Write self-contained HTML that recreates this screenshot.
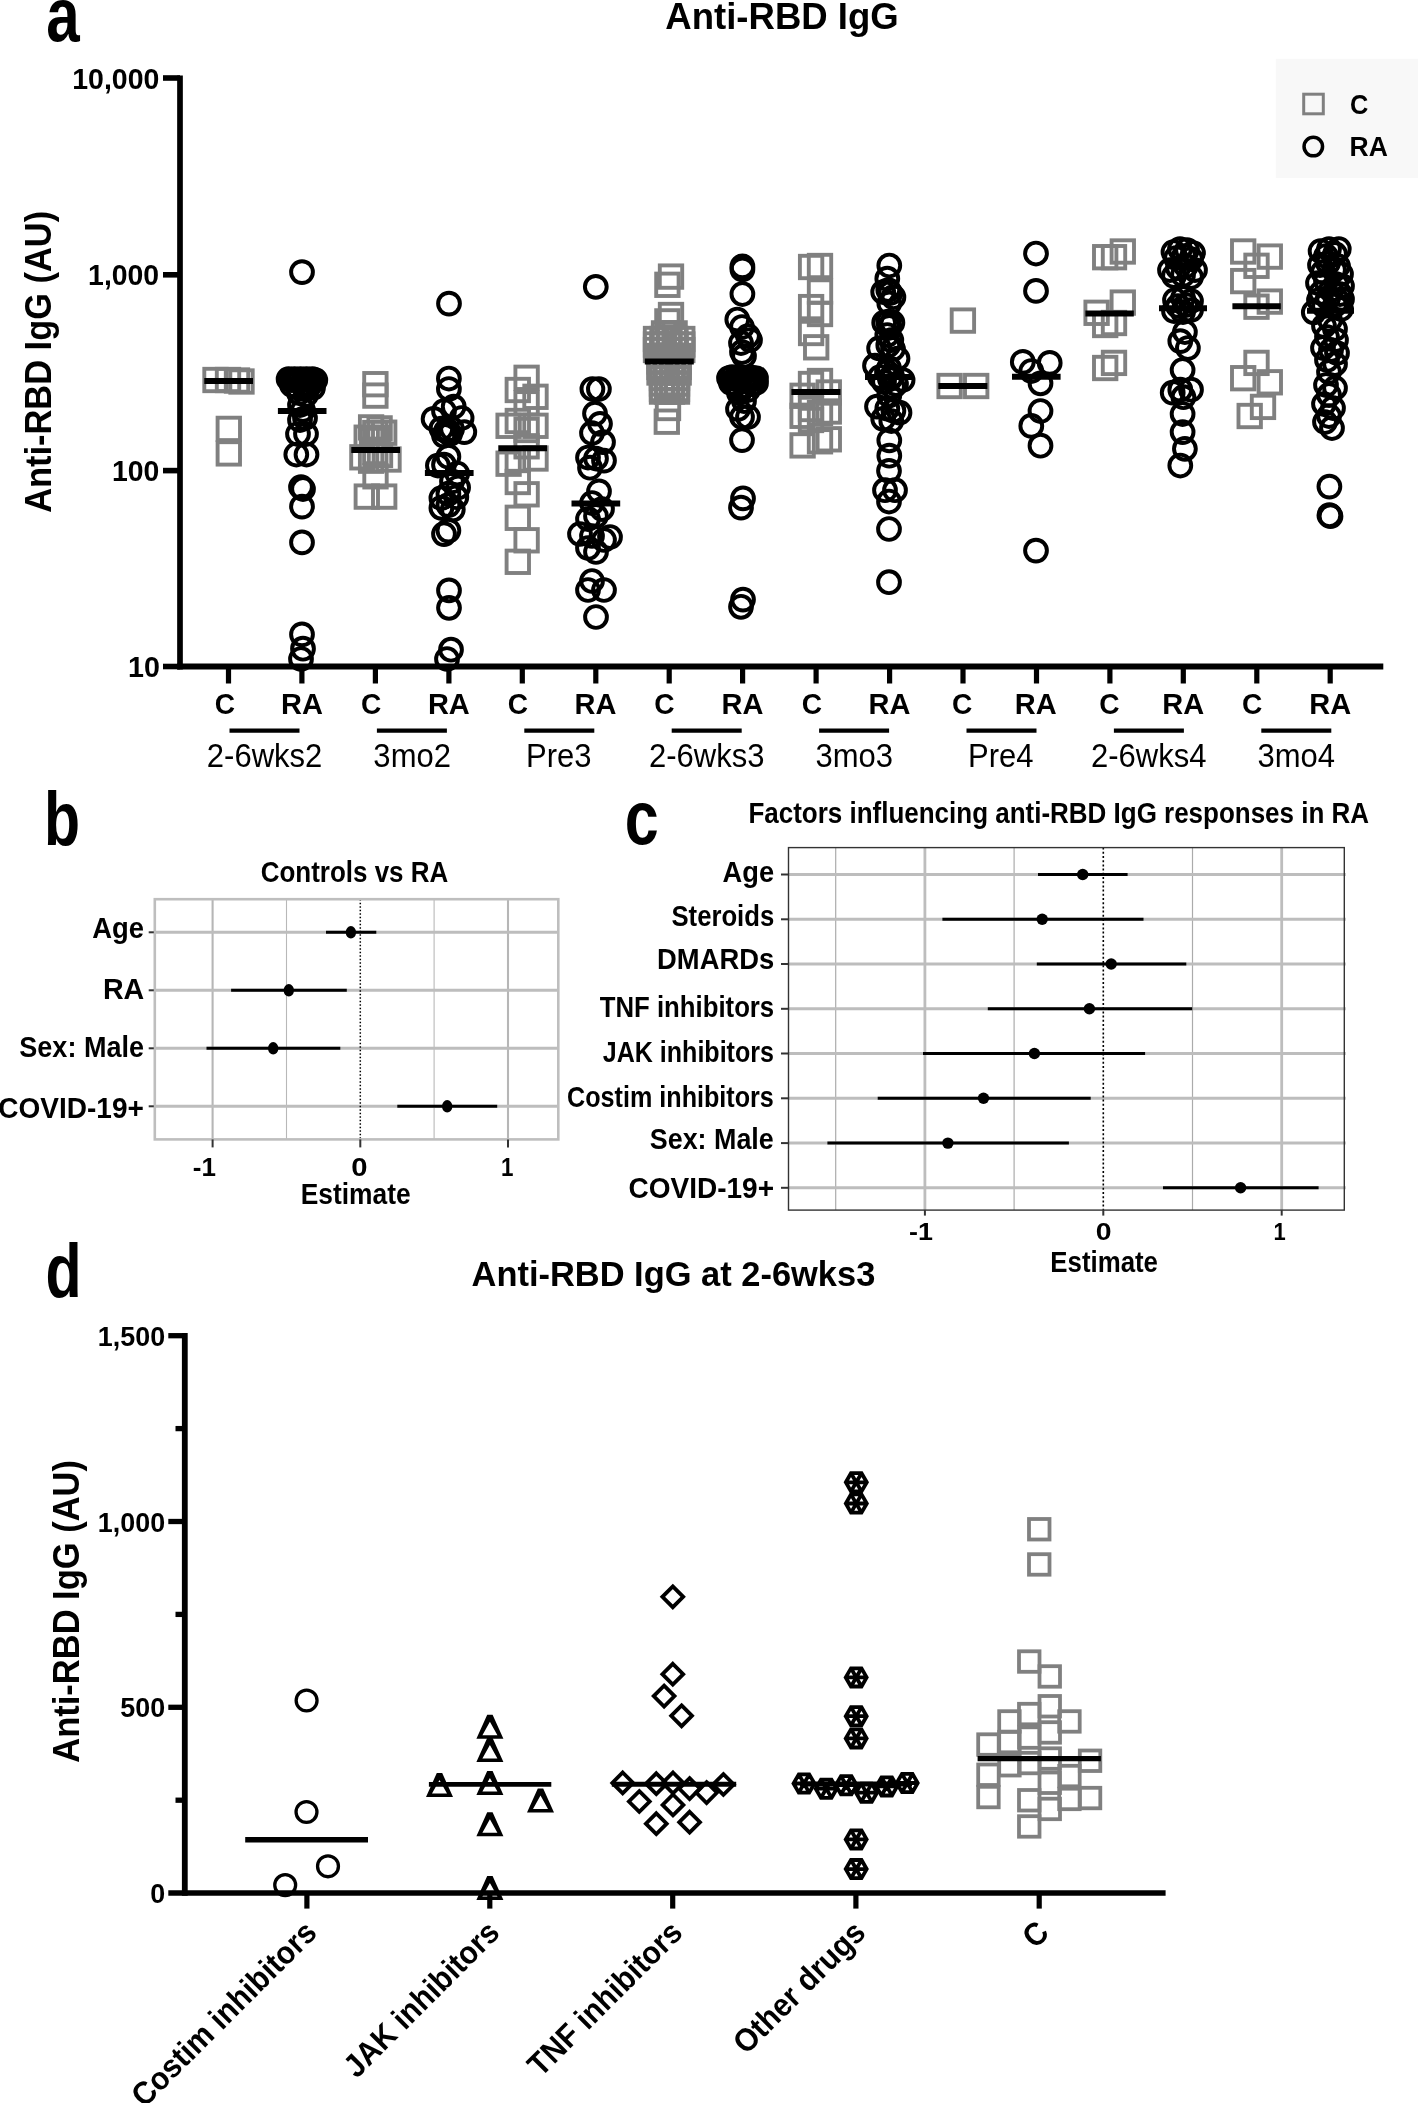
<!DOCTYPE html>
<html><head><meta charset="utf-8"><title>Anti-RBD IgG figure</title>
<style>
html,body{margin:0;padding:0;background:#fff;overflow:hidden;}
svg{display:block;font-family:"Liberation Sans", sans-serif;filter:grayscale(1);}
</style></head><body>
<svg width="1418" height="2103" viewBox="0 0 1418 2103">
<rect x="0" y="0" width="1418" height="2103" fill="#fff"/>
<rect x="1275.8" y="58.8" width="142.2" height="119.1" fill="#f8f8f8"/>
<rect x="204.3" y="368.8" width="22.4" height="22.4" fill="none" stroke="#808080" stroke-width="3.9"/>
<rect x="216.8" y="368.8" width="22.4" height="22.4" fill="none" stroke="#808080" stroke-width="3.9"/>
<rect x="225.8" y="369.3" width="22.4" height="22.4" fill="none" stroke="#808080" stroke-width="3.9"/>
<rect x="230.3" y="370.3" width="22.4" height="22.4" fill="none" stroke="#808080" stroke-width="3.9"/>
<rect x="217.6" y="417.7" width="22.4" height="22.4" fill="none" stroke="#808080" stroke-width="3.9"/>
<rect x="217.6" y="442.2" width="22.4" height="22.4" fill="none" stroke="#808080" stroke-width="3.9"/>
<rect x="364.2" y="373.0" width="22.4" height="22.4" fill="none" stroke="#808080" stroke-width="3.9"/>
<rect x="364.2" y="384.4" width="22.4" height="22.4" fill="none" stroke="#808080" stroke-width="3.9"/>
<rect x="359.9" y="416.2" width="22.4" height="22.4" fill="none" stroke="#808080" stroke-width="3.9"/>
<rect x="368.4" y="417.2" width="22.4" height="22.4" fill="none" stroke="#808080" stroke-width="3.9"/>
<rect x="373.0" y="421.5" width="22.4" height="22.4" fill="none" stroke="#808080" stroke-width="3.9"/>
<rect x="355.5" y="426.5" width="22.4" height="22.4" fill="none" stroke="#808080" stroke-width="3.9"/>
<rect x="364.1" y="421.8" width="22.4" height="22.4" fill="none" stroke="#808080" stroke-width="3.9"/>
<rect x="360.8" y="428.8" width="22.4" height="22.4" fill="none" stroke="#808080" stroke-width="3.9"/>
<rect x="366.8" y="426.8" width="22.4" height="22.4" fill="none" stroke="#808080" stroke-width="3.9"/>
<rect x="351.2" y="446.1" width="22.4" height="22.4" fill="none" stroke="#808080" stroke-width="3.9"/>
<rect x="377.3" y="448.3" width="22.4" height="22.4" fill="none" stroke="#808080" stroke-width="3.9"/>
<rect x="359.9" y="449.5" width="22.4" height="22.4" fill="none" stroke="#808080" stroke-width="3.9"/>
<rect x="364.1" y="440.8" width="22.4" height="22.4" fill="none" stroke="#808080" stroke-width="3.9"/>
<rect x="368.8" y="443.8" width="22.4" height="22.4" fill="none" stroke="#808080" stroke-width="3.9"/>
<rect x="364.3" y="465.1" width="22.4" height="22.4" fill="none" stroke="#808080" stroke-width="3.9"/>
<rect x="355.6" y="485.4" width="22.4" height="22.4" fill="none" stroke="#808080" stroke-width="3.9"/>
<rect x="373.0" y="485.4" width="22.4" height="22.4" fill="none" stroke="#808080" stroke-width="3.9"/>
<rect x="515.4" y="366.6" width="22.4" height="22.4" fill="none" stroke="#808080" stroke-width="3.9"/>
<rect x="506.6" y="378.8" width="22.4" height="22.4" fill="none" stroke="#808080" stroke-width="3.9"/>
<rect x="524.3" y="385.6" width="22.4" height="22.4" fill="none" stroke="#808080" stroke-width="3.9"/>
<rect x="515.4" y="392.1" width="22.4" height="22.4" fill="none" stroke="#808080" stroke-width="3.9"/>
<rect x="506.6" y="409.8" width="22.4" height="22.4" fill="none" stroke="#808080" stroke-width="3.9"/>
<rect x="497.4" y="414.6" width="22.4" height="22.4" fill="none" stroke="#808080" stroke-width="3.9"/>
<rect x="524.3" y="414.6" width="22.4" height="22.4" fill="none" stroke="#808080" stroke-width="3.9"/>
<rect x="515.4" y="418.8" width="22.4" height="22.4" fill="none" stroke="#808080" stroke-width="3.9"/>
<rect x="515.4" y="435.1" width="22.4" height="22.4" fill="none" stroke="#808080" stroke-width="3.9"/>
<rect x="497.4" y="452.5" width="22.4" height="22.4" fill="none" stroke="#808080" stroke-width="3.9"/>
<rect x="524.3" y="447.3" width="22.4" height="22.4" fill="none" stroke="#808080" stroke-width="3.9"/>
<rect x="506.6" y="448.8" width="22.4" height="22.4" fill="none" stroke="#808080" stroke-width="3.9"/>
<rect x="506.6" y="470.8" width="22.4" height="22.4" fill="none" stroke="#808080" stroke-width="3.9"/>
<rect x="515.4" y="483.1" width="22.4" height="22.4" fill="none" stroke="#808080" stroke-width="3.9"/>
<rect x="506.6" y="506.6" width="22.4" height="22.4" fill="none" stroke="#808080" stroke-width="3.9"/>
<rect x="515.4" y="529.1" width="22.4" height="22.4" fill="none" stroke="#808080" stroke-width="3.9"/>
<rect x="506.6" y="550.6" width="22.4" height="22.4" fill="none" stroke="#808080" stroke-width="3.9"/>
<rect x="659.8" y="265.4" width="22.4" height="22.4" fill="none" stroke="#808080" stroke-width="3.9"/>
<rect x="656.2" y="273.6" width="22.4" height="22.4" fill="none" stroke="#808080" stroke-width="3.9"/>
<rect x="659.8" y="303.8" width="22.4" height="22.4" fill="none" stroke="#808080" stroke-width="3.9"/>
<rect x="656.2" y="310.2" width="22.4" height="22.4" fill="none" stroke="#808080" stroke-width="3.9"/>
<rect x="652.8" y="322.2" width="22.4" height="22.4" fill="none" stroke="#808080" stroke-width="3.9"/>
<rect x="658.3" y="322.2" width="22.4" height="22.4" fill="none" stroke="#808080" stroke-width="3.9"/>
<rect x="663.4" y="322.2" width="22.4" height="22.4" fill="none" stroke="#808080" stroke-width="3.9"/>
<rect x="644.8" y="327.8" width="22.4" height="22.4" fill="none" stroke="#808080" stroke-width="3.9"/>
<rect x="651.3" y="327.8" width="22.4" height="22.4" fill="none" stroke="#808080" stroke-width="3.9"/>
<rect x="657.8" y="327.8" width="22.4" height="22.4" fill="none" stroke="#808080" stroke-width="3.9"/>
<rect x="664.3" y="327.8" width="22.4" height="22.4" fill="none" stroke="#808080" stroke-width="3.9"/>
<rect x="671.1" y="327.8" width="22.4" height="22.4" fill="none" stroke="#808080" stroke-width="3.9"/>
<rect x="644.8" y="333.3" width="22.4" height="22.4" fill="none" stroke="#808080" stroke-width="3.9"/>
<rect x="651.3" y="333.3" width="22.4" height="22.4" fill="none" stroke="#808080" stroke-width="3.9"/>
<rect x="657.8" y="333.3" width="22.4" height="22.4" fill="none" stroke="#808080" stroke-width="3.9"/>
<rect x="664.3" y="333.3" width="22.4" height="22.4" fill="none" stroke="#808080" stroke-width="3.9"/>
<rect x="671.1" y="333.3" width="22.4" height="22.4" fill="none" stroke="#808080" stroke-width="3.9"/>
<rect x="644.8" y="338.8" width="22.4" height="22.4" fill="none" stroke="#808080" stroke-width="3.9"/>
<rect x="651.3" y="338.8" width="22.4" height="22.4" fill="none" stroke="#808080" stroke-width="3.9"/>
<rect x="657.8" y="338.8" width="22.4" height="22.4" fill="none" stroke="#808080" stroke-width="3.9"/>
<rect x="664.3" y="338.8" width="22.4" height="22.4" fill="none" stroke="#808080" stroke-width="3.9"/>
<rect x="671.1" y="338.8" width="22.4" height="22.4" fill="none" stroke="#808080" stroke-width="3.9"/>
<rect x="648.3" y="344.8" width="22.4" height="22.4" fill="none" stroke="#808080" stroke-width="3.9"/>
<rect x="654.8" y="344.8" width="22.4" height="22.4" fill="none" stroke="#808080" stroke-width="3.9"/>
<rect x="661.3" y="344.8" width="22.4" height="22.4" fill="none" stroke="#808080" stroke-width="3.9"/>
<rect x="667.5" y="344.8" width="22.4" height="22.4" fill="none" stroke="#808080" stroke-width="3.9"/>
<rect x="648.3" y="350.3" width="22.4" height="22.4" fill="none" stroke="#808080" stroke-width="3.9"/>
<rect x="654.8" y="350.3" width="22.4" height="22.4" fill="none" stroke="#808080" stroke-width="3.9"/>
<rect x="661.3" y="350.3" width="22.4" height="22.4" fill="none" stroke="#808080" stroke-width="3.9"/>
<rect x="667.5" y="350.3" width="22.4" height="22.4" fill="none" stroke="#808080" stroke-width="3.9"/>
<rect x="648.3" y="355.8" width="22.4" height="22.4" fill="none" stroke="#808080" stroke-width="3.9"/>
<rect x="654.8" y="355.8" width="22.4" height="22.4" fill="none" stroke="#808080" stroke-width="3.9"/>
<rect x="661.3" y="355.8" width="22.4" height="22.4" fill="none" stroke="#808080" stroke-width="3.9"/>
<rect x="667.5" y="355.8" width="22.4" height="22.4" fill="none" stroke="#808080" stroke-width="3.9"/>
<rect x="648.3" y="361.3" width="22.4" height="22.4" fill="none" stroke="#808080" stroke-width="3.9"/>
<rect x="654.8" y="361.3" width="22.4" height="22.4" fill="none" stroke="#808080" stroke-width="3.9"/>
<rect x="661.3" y="361.3" width="22.4" height="22.4" fill="none" stroke="#808080" stroke-width="3.9"/>
<rect x="667.5" y="361.3" width="22.4" height="22.4" fill="none" stroke="#808080" stroke-width="3.9"/>
<rect x="650.8" y="366.8" width="22.4" height="22.4" fill="none" stroke="#808080" stroke-width="3.9"/>
<rect x="655.8" y="366.8" width="22.4" height="22.4" fill="none" stroke="#808080" stroke-width="3.9"/>
<rect x="660.8" y="366.8" width="22.4" height="22.4" fill="none" stroke="#808080" stroke-width="3.9"/>
<rect x="665.8" y="366.8" width="22.4" height="22.4" fill="none" stroke="#808080" stroke-width="3.9"/>
<rect x="650.8" y="372.3" width="22.4" height="22.4" fill="none" stroke="#808080" stroke-width="3.9"/>
<rect x="655.8" y="372.3" width="22.4" height="22.4" fill="none" stroke="#808080" stroke-width="3.9"/>
<rect x="660.8" y="372.3" width="22.4" height="22.4" fill="none" stroke="#808080" stroke-width="3.9"/>
<rect x="665.8" y="372.3" width="22.4" height="22.4" fill="none" stroke="#808080" stroke-width="3.9"/>
<rect x="650.8" y="377.8" width="22.4" height="22.4" fill="none" stroke="#808080" stroke-width="3.9"/>
<rect x="655.8" y="377.8" width="22.4" height="22.4" fill="none" stroke="#808080" stroke-width="3.9"/>
<rect x="660.8" y="377.8" width="22.4" height="22.4" fill="none" stroke="#808080" stroke-width="3.9"/>
<rect x="665.8" y="377.8" width="22.4" height="22.4" fill="none" stroke="#808080" stroke-width="3.9"/>
<rect x="650.8" y="380.4" width="22.4" height="22.4" fill="none" stroke="#808080" stroke-width="3.9"/>
<rect x="655.8" y="380.4" width="22.4" height="22.4" fill="none" stroke="#808080" stroke-width="3.9"/>
<rect x="660.8" y="380.4" width="22.4" height="22.4" fill="none" stroke="#808080" stroke-width="3.9"/>
<rect x="665.8" y="380.4" width="22.4" height="22.4" fill="none" stroke="#808080" stroke-width="3.9"/>
<rect x="656.8" y="396.8" width="22.4" height="22.4" fill="none" stroke="#808080" stroke-width="3.9"/>
<rect x="655.6" y="410.5" width="22.4" height="22.4" fill="none" stroke="#808080" stroke-width="3.9"/>
<rect x="799.9" y="255.8" width="22.4" height="22.4" fill="none" stroke="#808080" stroke-width="3.9"/>
<rect x="808.8" y="254.8" width="22.4" height="22.4" fill="none" stroke="#808080" stroke-width="3.9"/>
<rect x="808.8" y="280.3" width="22.4" height="22.4" fill="none" stroke="#808080" stroke-width="3.9"/>
<rect x="799.9" y="295.9" width="22.4" height="22.4" fill="none" stroke="#808080" stroke-width="3.9"/>
<rect x="808.8" y="302.8" width="22.4" height="22.4" fill="none" stroke="#808080" stroke-width="3.9"/>
<rect x="799.9" y="321.8" width="22.4" height="22.4" fill="none" stroke="#808080" stroke-width="3.9"/>
<rect x="805.0" y="336.1" width="22.4" height="22.4" fill="none" stroke="#808080" stroke-width="3.9"/>
<rect x="799.8" y="372.8" width="22.4" height="22.4" fill="none" stroke="#808080" stroke-width="3.9"/>
<rect x="808.8" y="369.8" width="22.4" height="22.4" fill="none" stroke="#808080" stroke-width="3.9"/>
<rect x="817.6" y="381.3" width="22.4" height="22.4" fill="none" stroke="#808080" stroke-width="3.9"/>
<rect x="791.4" y="384.6" width="22.4" height="22.4" fill="none" stroke="#808080" stroke-width="3.9"/>
<rect x="799.8" y="397.8" width="22.4" height="22.4" fill="none" stroke="#808080" stroke-width="3.9"/>
<rect x="808.8" y="401.8" width="22.4" height="22.4" fill="none" stroke="#808080" stroke-width="3.9"/>
<rect x="817.6" y="400.3" width="22.4" height="22.4" fill="none" stroke="#808080" stroke-width="3.9"/>
<rect x="791.4" y="404.6" width="22.4" height="22.4" fill="none" stroke="#808080" stroke-width="3.9"/>
<rect x="799.8" y="408.8" width="22.4" height="22.4" fill="none" stroke="#808080" stroke-width="3.9"/>
<rect x="791.4" y="434.2" width="22.4" height="22.4" fill="none" stroke="#808080" stroke-width="3.9"/>
<rect x="808.8" y="430.1" width="22.4" height="22.4" fill="none" stroke="#808080" stroke-width="3.9"/>
<rect x="817.6" y="428.1" width="22.4" height="22.4" fill="none" stroke="#808080" stroke-width="3.9"/>
<rect x="951.7" y="309.4" width="22.4" height="22.4" fill="none" stroke="#808080" stroke-width="3.9"/>
<rect x="938.4" y="374.8" width="22.4" height="22.4" fill="none" stroke="#808080" stroke-width="3.9"/>
<rect x="965.0" y="374.8" width="22.4" height="22.4" fill="none" stroke="#808080" stroke-width="3.9"/>
<rect x="1094.0" y="246.0" width="22.4" height="22.4" fill="none" stroke="#808080" stroke-width="3.9"/>
<rect x="1102.8" y="246.0" width="22.4" height="22.4" fill="none" stroke="#808080" stroke-width="3.9"/>
<rect x="1111.6" y="240.3" width="22.4" height="22.4" fill="none" stroke="#808080" stroke-width="3.9"/>
<rect x="1085.4" y="301.6" width="22.4" height="22.4" fill="none" stroke="#808080" stroke-width="3.9"/>
<rect x="1111.6" y="291.4" width="22.4" height="22.4" fill="none" stroke="#808080" stroke-width="3.9"/>
<rect x="1094.0" y="313.8" width="22.4" height="22.4" fill="none" stroke="#808080" stroke-width="3.9"/>
<rect x="1102.8" y="311.8" width="22.4" height="22.4" fill="none" stroke="#808080" stroke-width="3.9"/>
<rect x="1094.0" y="356.8" width="22.4" height="22.4" fill="none" stroke="#808080" stroke-width="3.9"/>
<rect x="1102.8" y="351.7" width="22.4" height="22.4" fill="none" stroke="#808080" stroke-width="3.9"/>
<rect x="1232.0" y="240.3" width="22.4" height="22.4" fill="none" stroke="#808080" stroke-width="3.9"/>
<rect x="1258.6" y="245.4" width="22.4" height="22.4" fill="none" stroke="#808080" stroke-width="3.9"/>
<rect x="1245.3" y="254.6" width="22.4" height="22.4" fill="none" stroke="#808080" stroke-width="3.9"/>
<rect x="1232.0" y="269.9" width="22.4" height="22.4" fill="none" stroke="#808080" stroke-width="3.9"/>
<rect x="1258.6" y="290.4" width="22.4" height="22.4" fill="none" stroke="#808080" stroke-width="3.9"/>
<rect x="1245.3" y="295.5" width="22.4" height="22.4" fill="none" stroke="#808080" stroke-width="3.9"/>
<rect x="1245.3" y="351.7" width="22.4" height="22.4" fill="none" stroke="#808080" stroke-width="3.9"/>
<rect x="1232.0" y="367.0" width="22.4" height="22.4" fill="none" stroke="#808080" stroke-width="3.9"/>
<rect x="1258.6" y="371.1" width="22.4" height="22.4" fill="none" stroke="#808080" stroke-width="3.9"/>
<rect x="1251.8" y="395.7" width="22.4" height="22.4" fill="none" stroke="#808080" stroke-width="3.9"/>
<rect x="1238.5" y="404.8" width="22.4" height="22.4" fill="none" stroke="#808080" stroke-width="3.9"/>
<circle cx="302.0" cy="272.1" r="10.9" fill="none" stroke="#000" stroke-width="3.95"/>
<circle cx="288.6" cy="379.0" r="10.9" fill="none" stroke="#000" stroke-width="3.95"/>
<circle cx="291.5" cy="380.0" r="10.9" fill="none" stroke="#000" stroke-width="3.95"/>
<circle cx="294.5" cy="379.0" r="10.9" fill="none" stroke="#000" stroke-width="3.95"/>
<circle cx="297.5" cy="380.5" r="10.9" fill="none" stroke="#000" stroke-width="3.95"/>
<circle cx="300.5" cy="379.0" r="10.9" fill="none" stroke="#000" stroke-width="3.95"/>
<circle cx="303.5" cy="380.0" r="10.9" fill="none" stroke="#000" stroke-width="3.95"/>
<circle cx="306.5" cy="379.0" r="10.9" fill="none" stroke="#000" stroke-width="3.95"/>
<circle cx="309.5" cy="380.0" r="10.9" fill="none" stroke="#000" stroke-width="3.95"/>
<circle cx="312.5" cy="379.0" r="10.9" fill="none" stroke="#000" stroke-width="3.95"/>
<circle cx="315.3" cy="380.0" r="10.9" fill="none" stroke="#000" stroke-width="3.95"/>
<circle cx="313.0" cy="387.8" r="10.9" fill="none" stroke="#000" stroke-width="3.95"/>
<circle cx="309.0" cy="386.0" r="10.9" fill="none" stroke="#000" stroke-width="3.95"/>
<circle cx="298.0" cy="388.0" r="10.9" fill="none" stroke="#000" stroke-width="3.95"/>
<circle cx="292.0" cy="385.0" r="10.9" fill="none" stroke="#000" stroke-width="3.95"/>
<circle cx="304.0" cy="387.0" r="10.9" fill="none" stroke="#000" stroke-width="3.95"/>
<circle cx="299.0" cy="393.0" r="10.9" fill="none" stroke="#000" stroke-width="3.95"/>
<circle cx="306.0" cy="395.0" r="10.9" fill="none" stroke="#000" stroke-width="3.95"/>
<circle cx="300.0" cy="405.0" r="10.9" fill="none" stroke="#000" stroke-width="3.95"/>
<circle cx="303.0" cy="410.0" r="10.9" fill="none" stroke="#000" stroke-width="3.95"/>
<circle cx="300.0" cy="420.0" r="10.9" fill="none" stroke="#000" stroke-width="3.95"/>
<circle cx="305.0" cy="418.0" r="10.9" fill="none" stroke="#000" stroke-width="3.95"/>
<circle cx="298.0" cy="434.0" r="10.9" fill="none" stroke="#000" stroke-width="3.95"/>
<circle cx="306.0" cy="434.0" r="10.9" fill="none" stroke="#000" stroke-width="3.95"/>
<circle cx="296.3" cy="454.5" r="10.9" fill="none" stroke="#000" stroke-width="3.95"/>
<circle cx="306.5" cy="454.5" r="10.9" fill="none" stroke="#000" stroke-width="3.95"/>
<circle cx="301.0" cy="487.0" r="10.9" fill="none" stroke="#000" stroke-width="3.95"/>
<circle cx="303.0" cy="489.0" r="10.9" fill="none" stroke="#000" stroke-width="3.95"/>
<circle cx="302.0" cy="506.6" r="10.9" fill="none" stroke="#000" stroke-width="3.95"/>
<circle cx="302.0" cy="542.4" r="10.9" fill="none" stroke="#000" stroke-width="3.95"/>
<circle cx="302.0" cy="634.4" r="10.9" fill="none" stroke="#000" stroke-width="3.95"/>
<circle cx="303.0" cy="648.7" r="10.9" fill="none" stroke="#000" stroke-width="3.95"/>
<circle cx="301.0" cy="659.0" r="10.9" fill="none" stroke="#000" stroke-width="3.95"/>
<circle cx="449.0" cy="303.6" r="10.9" fill="none" stroke="#000" stroke-width="3.95"/>
<circle cx="448.9" cy="378.5" r="10.9" fill="none" stroke="#000" stroke-width="3.95"/>
<circle cx="448.9" cy="389.0" r="10.9" fill="none" stroke="#000" stroke-width="3.95"/>
<circle cx="453.7" cy="406.6" r="10.9" fill="none" stroke="#000" stroke-width="3.95"/>
<circle cx="444.0" cy="411.0" r="10.9" fill="none" stroke="#000" stroke-width="3.95"/>
<circle cx="433.6" cy="418.9" r="10.9" fill="none" stroke="#000" stroke-width="3.95"/>
<circle cx="461.6" cy="418.0" r="10.9" fill="none" stroke="#000" stroke-width="3.95"/>
<circle cx="441.4" cy="428.6" r="10.9" fill="none" stroke="#000" stroke-width="3.95"/>
<circle cx="446.0" cy="431.0" r="10.9" fill="none" stroke="#000" stroke-width="3.95"/>
<circle cx="450.0" cy="434.0" r="10.9" fill="none" stroke="#000" stroke-width="3.95"/>
<circle cx="452.0" cy="429.0" r="10.9" fill="none" stroke="#000" stroke-width="3.95"/>
<circle cx="444.0" cy="435.6" r="10.9" fill="none" stroke="#000" stroke-width="3.95"/>
<circle cx="448.0" cy="431.0" r="10.9" fill="none" stroke="#000" stroke-width="3.95"/>
<circle cx="464.3" cy="432.1" r="10.9" fill="none" stroke="#000" stroke-width="3.95"/>
<circle cx="448.4" cy="456.7" r="10.9" fill="none" stroke="#000" stroke-width="3.95"/>
<circle cx="444.0" cy="464.7" r="10.9" fill="none" stroke="#000" stroke-width="3.95"/>
<circle cx="437.9" cy="465.5" r="10.9" fill="none" stroke="#000" stroke-width="3.95"/>
<circle cx="457.2" cy="473.5" r="10.9" fill="none" stroke="#000" stroke-width="3.95"/>
<circle cx="452.0" cy="481.4" r="10.9" fill="none" stroke="#000" stroke-width="3.95"/>
<circle cx="458.1" cy="487.5" r="10.9" fill="none" stroke="#000" stroke-width="3.95"/>
<circle cx="441.4" cy="498.1" r="10.9" fill="none" stroke="#000" stroke-width="3.95"/>
<circle cx="448.4" cy="493.7" r="10.9" fill="none" stroke="#000" stroke-width="3.95"/>
<circle cx="456.3" cy="497.2" r="10.9" fill="none" stroke="#000" stroke-width="3.95"/>
<circle cx="448.4" cy="505.1" r="10.9" fill="none" stroke="#000" stroke-width="3.95"/>
<circle cx="441.4" cy="507.8" r="10.9" fill="none" stroke="#000" stroke-width="3.95"/>
<circle cx="452.8" cy="509.5" r="10.9" fill="none" stroke="#000" stroke-width="3.95"/>
<circle cx="448.4" cy="530.6" r="10.9" fill="none" stroke="#000" stroke-width="3.95"/>
<circle cx="444.0" cy="534.1" r="10.9" fill="none" stroke="#000" stroke-width="3.95"/>
<circle cx="449.0" cy="590.4" r="10.9" fill="none" stroke="#000" stroke-width="3.95"/>
<circle cx="449.0" cy="607.8" r="10.9" fill="none" stroke="#000" stroke-width="3.95"/>
<circle cx="451.0" cy="649.7" r="10.9" fill="none" stroke="#000" stroke-width="3.95"/>
<circle cx="447.0" cy="659.0" r="10.9" fill="none" stroke="#000" stroke-width="3.95"/>
<circle cx="595.8" cy="286.8" r="10.9" fill="none" stroke="#000" stroke-width="3.95"/>
<circle cx="592.4" cy="389.0" r="10.9" fill="none" stroke="#000" stroke-width="3.95"/>
<circle cx="598.9" cy="389.0" r="10.9" fill="none" stroke="#000" stroke-width="3.95"/>
<circle cx="595.0" cy="413.6" r="10.9" fill="none" stroke="#000" stroke-width="3.95"/>
<circle cx="600.0" cy="423.8" r="10.9" fill="none" stroke="#000" stroke-width="3.95"/>
<circle cx="592.0" cy="433.0" r="10.9" fill="none" stroke="#000" stroke-width="3.95"/>
<circle cx="603.0" cy="442.2" r="10.9" fill="none" stroke="#000" stroke-width="3.95"/>
<circle cx="588.0" cy="457.5" r="10.9" fill="none" stroke="#000" stroke-width="3.95"/>
<circle cx="596.0" cy="458.5" r="10.9" fill="none" stroke="#000" stroke-width="3.95"/>
<circle cx="604.0" cy="460.6" r="10.9" fill="none" stroke="#000" stroke-width="3.95"/>
<circle cx="590.0" cy="467.7" r="10.9" fill="none" stroke="#000" stroke-width="3.95"/>
<circle cx="599.0" cy="491.3" r="10.9" fill="none" stroke="#000" stroke-width="3.95"/>
<circle cx="592.0" cy="503.0" r="10.9" fill="none" stroke="#000" stroke-width="3.95"/>
<circle cx="602.0" cy="509.0" r="10.9" fill="none" stroke="#000" stroke-width="3.95"/>
<circle cx="588.0" cy="519.0" r="10.9" fill="none" stroke="#000" stroke-width="3.95"/>
<circle cx="596.0" cy="516.0" r="10.9" fill="none" stroke="#000" stroke-width="3.95"/>
<circle cx="580.0" cy="534.0" r="10.9" fill="none" stroke="#000" stroke-width="3.95"/>
<circle cx="592.0" cy="536.0" r="10.9" fill="none" stroke="#000" stroke-width="3.95"/>
<circle cx="610.0" cy="537.0" r="10.9" fill="none" stroke="#000" stroke-width="3.95"/>
<circle cx="604.0" cy="540.0" r="10.9" fill="none" stroke="#000" stroke-width="3.95"/>
<circle cx="588.0" cy="548.0" r="10.9" fill="none" stroke="#000" stroke-width="3.95"/>
<circle cx="596.0" cy="552.0" r="10.9" fill="none" stroke="#000" stroke-width="3.95"/>
<circle cx="592.0" cy="581.0" r="10.9" fill="none" stroke="#000" stroke-width="3.95"/>
<circle cx="588.0" cy="590.0" r="10.9" fill="none" stroke="#000" stroke-width="3.95"/>
<circle cx="604.0" cy="590.0" r="10.9" fill="none" stroke="#000" stroke-width="3.95"/>
<circle cx="596.0" cy="617.0" r="10.9" fill="none" stroke="#000" stroke-width="3.95"/>
<circle cx="742.4" cy="266.4" r="10.9" fill="none" stroke="#000" stroke-width="3.95"/>
<circle cx="742.4" cy="269.4" r="10.9" fill="none" stroke="#000" stroke-width="3.95"/>
<circle cx="742.4" cy="294.0" r="10.9" fill="none" stroke="#000" stroke-width="3.95"/>
<circle cx="737.3" cy="319.5" r="10.9" fill="none" stroke="#000" stroke-width="3.95"/>
<circle cx="742.0" cy="327.0" r="10.9" fill="none" stroke="#000" stroke-width="3.95"/>
<circle cx="748.0" cy="336.0" r="10.9" fill="none" stroke="#000" stroke-width="3.95"/>
<circle cx="741.0" cy="343.0" r="10.9" fill="none" stroke="#000" stroke-width="3.95"/>
<circle cx="750.0" cy="340.0" r="10.9" fill="none" stroke="#000" stroke-width="3.95"/>
<circle cx="742.0" cy="352.0" r="10.9" fill="none" stroke="#000" stroke-width="3.95"/>
<circle cx="744.0" cy="356.0" r="10.9" fill="none" stroke="#000" stroke-width="3.95"/>
<circle cx="729.0" cy="378.0" r="10.9" fill="none" stroke="#000" stroke-width="3.95"/>
<circle cx="732.0" cy="377.0" r="10.9" fill="none" stroke="#000" stroke-width="3.95"/>
<circle cx="735.0" cy="379.0" r="10.9" fill="none" stroke="#000" stroke-width="3.95"/>
<circle cx="738.0" cy="378.0" r="10.9" fill="none" stroke="#000" stroke-width="3.95"/>
<circle cx="741.0" cy="377.0" r="10.9" fill="none" stroke="#000" stroke-width="3.95"/>
<circle cx="744.0" cy="379.0" r="10.9" fill="none" stroke="#000" stroke-width="3.95"/>
<circle cx="747.0" cy="378.0" r="10.9" fill="none" stroke="#000" stroke-width="3.95"/>
<circle cx="750.0" cy="377.0" r="10.9" fill="none" stroke="#000" stroke-width="3.95"/>
<circle cx="753.0" cy="379.0" r="10.9" fill="none" stroke="#000" stroke-width="3.95"/>
<circle cx="756.0" cy="378.0" r="10.9" fill="none" stroke="#000" stroke-width="3.95"/>
<circle cx="735.0" cy="385.0" r="10.9" fill="none" stroke="#000" stroke-width="3.95"/>
<circle cx="745.0" cy="386.0" r="10.9" fill="none" stroke="#000" stroke-width="3.95"/>
<circle cx="752.0" cy="384.0" r="10.9" fill="none" stroke="#000" stroke-width="3.95"/>
<circle cx="740.0" cy="390.0" r="10.9" fill="none" stroke="#000" stroke-width="3.95"/>
<circle cx="748.0" cy="390.0" r="10.9" fill="none" stroke="#000" stroke-width="3.95"/>
<circle cx="731.0" cy="383.0" r="10.9" fill="none" stroke="#000" stroke-width="3.95"/>
<circle cx="756.0" cy="383.0" r="10.9" fill="none" stroke="#000" stroke-width="3.95"/>
<circle cx="739.0" cy="393.0" r="10.9" fill="none" stroke="#000" stroke-width="3.95"/>
<circle cx="744.0" cy="401.0" r="10.9" fill="none" stroke="#000" stroke-width="3.95"/>
<circle cx="738.0" cy="409.0" r="10.9" fill="none" stroke="#000" stroke-width="3.95"/>
<circle cx="742.0" cy="417.0" r="10.9" fill="none" stroke="#000" stroke-width="3.95"/>
<circle cx="748.0" cy="417.0" r="10.9" fill="none" stroke="#000" stroke-width="3.95"/>
<circle cx="742.0" cy="440.1" r="10.9" fill="none" stroke="#000" stroke-width="3.95"/>
<circle cx="743.0" cy="498.4" r="10.9" fill="none" stroke="#000" stroke-width="3.95"/>
<circle cx="741.0" cy="507.6" r="10.9" fill="none" stroke="#000" stroke-width="3.95"/>
<circle cx="743.0" cy="599.6" r="10.9" fill="none" stroke="#000" stroke-width="3.95"/>
<circle cx="741.0" cy="606.8" r="10.9" fill="none" stroke="#000" stroke-width="3.95"/>
<circle cx="889.3" cy="265.5" r="10.9" fill="none" stroke="#000" stroke-width="3.95"/>
<circle cx="887.3" cy="278.7" r="10.9" fill="none" stroke="#000" stroke-width="3.95"/>
<circle cx="888.3" cy="290.0" r="10.9" fill="none" stroke="#000" stroke-width="3.95"/>
<circle cx="890.3" cy="293.0" r="10.9" fill="none" stroke="#000" stroke-width="3.95"/>
<circle cx="883.2" cy="292.0" r="10.9" fill="none" stroke="#000" stroke-width="3.95"/>
<circle cx="893.4" cy="297.2" r="10.9" fill="none" stroke="#000" stroke-width="3.95"/>
<circle cx="889.3" cy="303.3" r="10.9" fill="none" stroke="#000" stroke-width="3.95"/>
<circle cx="888.3" cy="321.7" r="10.9" fill="none" stroke="#000" stroke-width="3.95"/>
<circle cx="889.3" cy="326.8" r="10.9" fill="none" stroke="#000" stroke-width="3.95"/>
<circle cx="884.2" cy="322.7" r="10.9" fill="none" stroke="#000" stroke-width="3.95"/>
<circle cx="892.4" cy="322.7" r="10.9" fill="none" stroke="#000" stroke-width="3.95"/>
<circle cx="887.3" cy="335.0" r="10.9" fill="none" stroke="#000" stroke-width="3.95"/>
<circle cx="891.3" cy="340.1" r="10.9" fill="none" stroke="#000" stroke-width="3.95"/>
<circle cx="888.3" cy="345.2" r="10.9" fill="none" stroke="#000" stroke-width="3.95"/>
<circle cx="879.1" cy="348.3" r="10.9" fill="none" stroke="#000" stroke-width="3.95"/>
<circle cx="893.0" cy="349.0" r="10.9" fill="none" stroke="#000" stroke-width="3.95"/>
<circle cx="875.0" cy="365.7" r="10.9" fill="none" stroke="#000" stroke-width="3.95"/>
<circle cx="897.5" cy="358.5" r="10.9" fill="none" stroke="#000" stroke-width="3.95"/>
<circle cx="887.0" cy="372.0" r="10.9" fill="none" stroke="#000" stroke-width="3.95"/>
<circle cx="892.0" cy="376.0" r="10.9" fill="none" stroke="#000" stroke-width="3.95"/>
<circle cx="896.0" cy="384.0" r="10.9" fill="none" stroke="#000" stroke-width="3.95"/>
<circle cx="884.0" cy="382.0" r="10.9" fill="none" stroke="#000" stroke-width="3.95"/>
<circle cx="889.0" cy="368.0" r="10.9" fill="none" stroke="#000" stroke-width="3.95"/>
<circle cx="890.0" cy="379.0" r="10.9" fill="none" stroke="#000" stroke-width="3.95"/>
<circle cx="902.6" cy="380.0" r="10.9" fill="none" stroke="#000" stroke-width="3.95"/>
<circle cx="880.0" cy="377.0" r="10.9" fill="none" stroke="#000" stroke-width="3.95"/>
<circle cx="893.0" cy="387.0" r="10.9" fill="none" stroke="#000" stroke-width="3.95"/>
<circle cx="889.3" cy="395.3" r="10.9" fill="none" stroke="#000" stroke-width="3.95"/>
<circle cx="877.0" cy="406.6" r="10.9" fill="none" stroke="#000" stroke-width="3.95"/>
<circle cx="887.3" cy="408.6" r="10.9" fill="none" stroke="#000" stroke-width="3.95"/>
<circle cx="893.4" cy="410.7" r="10.9" fill="none" stroke="#000" stroke-width="3.95"/>
<circle cx="899.5" cy="412.7" r="10.9" fill="none" stroke="#000" stroke-width="3.95"/>
<circle cx="883.2" cy="418.8" r="10.9" fill="none" stroke="#000" stroke-width="3.95"/>
<circle cx="891.3" cy="421.0" r="10.9" fill="none" stroke="#000" stroke-width="3.95"/>
<circle cx="889.3" cy="440.3" r="10.9" fill="none" stroke="#000" stroke-width="3.95"/>
<circle cx="889.3" cy="455.7" r="10.9" fill="none" stroke="#000" stroke-width="3.95"/>
<circle cx="889.0" cy="470.8" r="10.9" fill="none" stroke="#000" stroke-width="3.95"/>
<circle cx="885.0" cy="490.2" r="10.9" fill="none" stroke="#000" stroke-width="3.95"/>
<circle cx="895.0" cy="490.2" r="10.9" fill="none" stroke="#000" stroke-width="3.95"/>
<circle cx="889.0" cy="501.5" r="10.9" fill="none" stroke="#000" stroke-width="3.95"/>
<circle cx="889.0" cy="529.0" r="10.9" fill="none" stroke="#000" stroke-width="3.95"/>
<circle cx="889.0" cy="582.2" r="10.9" fill="none" stroke="#000" stroke-width="3.95"/>
<circle cx="1036.0" cy="253.5" r="10.9" fill="none" stroke="#000" stroke-width="3.95"/>
<circle cx="1036.0" cy="290.9" r="10.9" fill="none" stroke="#000" stroke-width="3.95"/>
<circle cx="1022.8" cy="361.9" r="10.9" fill="none" stroke="#000" stroke-width="3.95"/>
<circle cx="1049.7" cy="362.9" r="10.9" fill="none" stroke="#000" stroke-width="3.95"/>
<circle cx="1031.3" cy="371.0" r="10.9" fill="none" stroke="#000" stroke-width="3.95"/>
<circle cx="1040.5" cy="383.3" r="10.9" fill="none" stroke="#000" stroke-width="3.95"/>
<circle cx="1040.5" cy="411.0" r="10.9" fill="none" stroke="#000" stroke-width="3.95"/>
<circle cx="1031.3" cy="425.9" r="10.9" fill="none" stroke="#000" stroke-width="3.95"/>
<circle cx="1040.5" cy="445.7" r="10.9" fill="none" stroke="#000" stroke-width="3.95"/>
<circle cx="1036.0" cy="550.6" r="10.9" fill="none" stroke="#000" stroke-width="3.95"/>
<circle cx="1173.5" cy="252.0" r="10.9" fill="none" stroke="#000" stroke-width="3.95"/>
<circle cx="1180.0" cy="249.0" r="10.9" fill="none" stroke="#000" stroke-width="3.95"/>
<circle cx="1187.0" cy="250.0" r="10.9" fill="none" stroke="#000" stroke-width="3.95"/>
<circle cx="1193.0" cy="253.0" r="10.9" fill="none" stroke="#000" stroke-width="3.95"/>
<circle cx="1176.0" cy="258.0" r="10.9" fill="none" stroke="#000" stroke-width="3.95"/>
<circle cx="1184.0" cy="256.0" r="10.9" fill="none" stroke="#000" stroke-width="3.95"/>
<circle cx="1191.0" cy="259.0" r="10.9" fill="none" stroke="#000" stroke-width="3.95"/>
<circle cx="1170.0" cy="270.0" r="10.9" fill="none" stroke="#000" stroke-width="3.95"/>
<circle cx="1178.0" cy="268.0" r="10.9" fill="none" stroke="#000" stroke-width="3.95"/>
<circle cx="1186.0" cy="266.0" r="10.9" fill="none" stroke="#000" stroke-width="3.95"/>
<circle cx="1195.0" cy="270.0" r="10.9" fill="none" stroke="#000" stroke-width="3.95"/>
<circle cx="1174.0" cy="276.0" r="10.9" fill="none" stroke="#000" stroke-width="3.95"/>
<circle cx="1183.0" cy="275.0" r="10.9" fill="none" stroke="#000" stroke-width="3.95"/>
<circle cx="1191.0" cy="277.0" r="10.9" fill="none" stroke="#000" stroke-width="3.95"/>
<circle cx="1175.0" cy="300.0" r="10.9" fill="none" stroke="#000" stroke-width="3.95"/>
<circle cx="1183.0" cy="298.0" r="10.9" fill="none" stroke="#000" stroke-width="3.95"/>
<circle cx="1191.0" cy="301.0" r="10.9" fill="none" stroke="#000" stroke-width="3.95"/>
<circle cx="1178.0" cy="306.0" r="10.9" fill="none" stroke="#000" stroke-width="3.95"/>
<circle cx="1186.0" cy="305.0" r="10.9" fill="none" stroke="#000" stroke-width="3.95"/>
<circle cx="1174.0" cy="311.0" r="10.9" fill="none" stroke="#000" stroke-width="3.95"/>
<circle cx="1183.0" cy="312.0" r="10.9" fill="none" stroke="#000" stroke-width="3.95"/>
<circle cx="1191.0" cy="310.0" r="10.9" fill="none" stroke="#000" stroke-width="3.95"/>
<circle cx="1184.9" cy="332.0" r="10.9" fill="none" stroke="#000" stroke-width="3.95"/>
<circle cx="1180.3" cy="341.1" r="10.9" fill="none" stroke="#000" stroke-width="3.95"/>
<circle cx="1187.9" cy="348.0" r="10.9" fill="none" stroke="#000" stroke-width="3.95"/>
<circle cx="1182.6" cy="370.0" r="10.9" fill="none" stroke="#000" stroke-width="3.95"/>
<circle cx="1172.7" cy="392.7" r="10.9" fill="none" stroke="#000" stroke-width="3.95"/>
<circle cx="1180.3" cy="389.7" r="10.9" fill="none" stroke="#000" stroke-width="3.95"/>
<circle cx="1191.0" cy="389.7" r="10.9" fill="none" stroke="#000" stroke-width="3.95"/>
<circle cx="1183.4" cy="397.2" r="10.9" fill="none" stroke="#000" stroke-width="3.95"/>
<circle cx="1182.6" cy="414.0" r="10.9" fill="none" stroke="#000" stroke-width="3.95"/>
<circle cx="1182.6" cy="432.1" r="10.9" fill="none" stroke="#000" stroke-width="3.95"/>
<circle cx="1184.9" cy="448.8" r="10.9" fill="none" stroke="#000" stroke-width="3.95"/>
<circle cx="1180.3" cy="465.5" r="10.9" fill="none" stroke="#000" stroke-width="3.95"/>
<circle cx="1320.6" cy="251.0" r="10.9" fill="none" stroke="#000" stroke-width="3.95"/>
<circle cx="1329.0" cy="249.0" r="10.9" fill="none" stroke="#000" stroke-width="3.95"/>
<circle cx="1338.8" cy="249.0" r="10.9" fill="none" stroke="#000" stroke-width="3.95"/>
<circle cx="1326.0" cy="256.0" r="10.9" fill="none" stroke="#000" stroke-width="3.95"/>
<circle cx="1335.0" cy="254.0" r="10.9" fill="none" stroke="#000" stroke-width="3.95"/>
<circle cx="1320.0" cy="265.0" r="10.9" fill="none" stroke="#000" stroke-width="3.95"/>
<circle cx="1328.0" cy="263.0" r="10.9" fill="none" stroke="#000" stroke-width="3.95"/>
<circle cx="1338.0" cy="266.0" r="10.9" fill="none" stroke="#000" stroke-width="3.95"/>
<circle cx="1323.0" cy="272.0" r="10.9" fill="none" stroke="#000" stroke-width="3.95"/>
<circle cx="1334.0" cy="270.0" r="10.9" fill="none" stroke="#000" stroke-width="3.95"/>
<circle cx="1341.0" cy="274.0" r="10.9" fill="none" stroke="#000" stroke-width="3.95"/>
<circle cx="1318.0" cy="283.0" r="10.9" fill="none" stroke="#000" stroke-width="3.95"/>
<circle cx="1326.0" cy="281.0" r="10.9" fill="none" stroke="#000" stroke-width="3.95"/>
<circle cx="1336.0" cy="284.0" r="10.9" fill="none" stroke="#000" stroke-width="3.95"/>
<circle cx="1342.0" cy="286.0" r="10.9" fill="none" stroke="#000" stroke-width="3.95"/>
<circle cx="1321.0" cy="293.0" r="10.9" fill="none" stroke="#000" stroke-width="3.95"/>
<circle cx="1331.0" cy="290.0" r="10.9" fill="none" stroke="#000" stroke-width="3.95"/>
<circle cx="1340.0" cy="294.0" r="10.9" fill="none" stroke="#000" stroke-width="3.95"/>
<circle cx="1319.0" cy="300.0" r="10.9" fill="none" stroke="#000" stroke-width="3.95"/>
<circle cx="1328.0" cy="298.0" r="10.9" fill="none" stroke="#000" stroke-width="3.95"/>
<circle cx="1338.0" cy="301.0" r="10.9" fill="none" stroke="#000" stroke-width="3.95"/>
<circle cx="1342.0" cy="299.0" r="10.9" fill="none" stroke="#000" stroke-width="3.95"/>
<circle cx="1324.0" cy="306.0" r="10.9" fill="none" stroke="#000" stroke-width="3.95"/>
<circle cx="1335.0" cy="305.0" r="10.9" fill="none" stroke="#000" stroke-width="3.95"/>
<circle cx="1313.8" cy="312.3" r="10.9" fill="none" stroke="#000" stroke-width="3.95"/>
<circle cx="1341.0" cy="309.0" r="10.9" fill="none" stroke="#000" stroke-width="3.95"/>
<circle cx="1330.0" cy="320.0" r="10.9" fill="none" stroke="#000" stroke-width="3.95"/>
<circle cx="1324.0" cy="326.0" r="10.9" fill="none" stroke="#000" stroke-width="3.95"/>
<circle cx="1335.0" cy="329.0" r="10.9" fill="none" stroke="#000" stroke-width="3.95"/>
<circle cx="1327.0" cy="337.0" r="10.9" fill="none" stroke="#000" stroke-width="3.95"/>
<circle cx="1336.0" cy="340.0" r="10.9" fill="none" stroke="#000" stroke-width="3.95"/>
<circle cx="1323.0" cy="348.0" r="10.9" fill="none" stroke="#000" stroke-width="3.95"/>
<circle cx="1331.0" cy="350.0" r="10.9" fill="none" stroke="#000" stroke-width="3.95"/>
<circle cx="1337.0" cy="353.0" r="10.9" fill="none" stroke="#000" stroke-width="3.95"/>
<circle cx="1327.0" cy="360.0" r="10.9" fill="none" stroke="#000" stroke-width="3.95"/>
<circle cx="1335.0" cy="364.0" r="10.9" fill="none" stroke="#000" stroke-width="3.95"/>
<circle cx="1329.0" cy="372.0" r="10.9" fill="none" stroke="#000" stroke-width="3.95"/>
<circle cx="1326.0" cy="385.0" r="10.9" fill="none" stroke="#000" stroke-width="3.95"/>
<circle cx="1335.0" cy="388.0" r="10.9" fill="none" stroke="#000" stroke-width="3.95"/>
<circle cx="1329.0" cy="395.0" r="10.9" fill="none" stroke="#000" stroke-width="3.95"/>
<circle cx="1324.0" cy="404.0" r="10.9" fill="none" stroke="#000" stroke-width="3.95"/>
<circle cx="1333.0" cy="408.0" r="10.9" fill="none" stroke="#000" stroke-width="3.95"/>
<circle cx="1329.0" cy="416.0" r="10.9" fill="none" stroke="#000" stroke-width="3.95"/>
<circle cx="1325.0" cy="422.0" r="10.9" fill="none" stroke="#000" stroke-width="3.95"/>
<circle cx="1332.0" cy="428.0" r="10.9" fill="none" stroke="#000" stroke-width="3.95"/>
<circle cx="1329.4" cy="486.6" r="10.9" fill="none" stroke="#000" stroke-width="3.95"/>
<circle cx="1329.4" cy="515.2" r="10.9" fill="none" stroke="#000" stroke-width="3.95"/>
<circle cx="1330.5" cy="516.2" r="10.9" fill="none" stroke="#000" stroke-width="3.95"/>
<line x1="204.3" y1="380.9" x2="253.0" y2="380.9" stroke="#000" stroke-width="6" />
<line x1="277.9" y1="411.0" x2="326.5" y2="411.0" stroke="#000" stroke-width="6" />
<line x1="351.3" y1="450.0" x2="400.0" y2="450.0" stroke="#000" stroke-width="6" />
<line x1="424.9" y1="472.9" x2="473.6" y2="472.9" stroke="#000" stroke-width="6" />
<line x1="498.3" y1="448.3" x2="547.0" y2="448.3" stroke="#000" stroke-width="6" />
<line x1="571.5" y1="503.5" x2="620.2" y2="503.5" stroke="#000" stroke-width="6" />
<line x1="644.8" y1="361.4" x2="693.8" y2="361.4" stroke="#000" stroke-width="6" />
<line x1="718.0" y1="378.0" x2="767.0" y2="378.0" stroke="#000" stroke-width="6" />
<line x1="791.4" y1="392.1" x2="840.5" y2="392.1" stroke="#000" stroke-width="6" />
<line x1="865.0" y1="377.0" x2="914.0" y2="377.0" stroke="#000" stroke-width="6" />
<line x1="938.3" y1="386.0" x2="987.4" y2="386.0" stroke="#000" stroke-width="6" />
<line x1="1012.0" y1="376.8" x2="1060.6" y2="376.8" stroke="#000" stroke-width="6" />
<line x1="1085.4" y1="313.4" x2="1133.8" y2="313.4" stroke="#000" stroke-width="6" />
<line x1="1159.0" y1="308.3" x2="1207.0" y2="308.3" stroke="#000" stroke-width="6" />
<line x1="1232.4" y1="306.3" x2="1280.8" y2="306.3" stroke="#000" stroke-width="6" />
<line x1="1307.0" y1="310.8" x2="1354.0" y2="310.8" stroke="#000" stroke-width="6" />
<line x1="180.0" y1="75.5" x2="180.0" y2="669.4" stroke="#000" stroke-width="5.7" />
<line x1="177.2" y1="666.5" x2="1383.3" y2="666.5" stroke="#000" stroke-width="6" />
<line x1="163.0" y1="78.0" x2="180.0" y2="78.0" stroke="#000" stroke-width="5.6" />
<line x1="163.0" y1="274.8" x2="180.0" y2="274.8" stroke="#000" stroke-width="5.6" />
<line x1="163.0" y1="470.6" x2="180.0" y2="470.6" stroke="#000" stroke-width="5.6" />
<line x1="163.0" y1="666.5" x2="180.0" y2="666.5" stroke="#000" stroke-width="5.6" />
<line x1="228.5" y1="666.5" x2="228.5" y2="683.5" stroke="#000" stroke-width="5.2" />
<line x1="301.9" y1="666.5" x2="301.9" y2="683.5" stroke="#000" stroke-width="5.2" />
<line x1="375.4" y1="666.5" x2="375.4" y2="683.5" stroke="#000" stroke-width="5.2" />
<line x1="448.9" y1="666.5" x2="448.9" y2="683.5" stroke="#000" stroke-width="5.2" />
<line x1="522.3" y1="666.5" x2="522.3" y2="683.5" stroke="#000" stroke-width="5.2" />
<line x1="595.8" y1="666.5" x2="595.8" y2="683.5" stroke="#000" stroke-width="5.2" />
<line x1="669.2" y1="666.5" x2="669.2" y2="683.5" stroke="#000" stroke-width="5.2" />
<line x1="742.6" y1="666.5" x2="742.6" y2="683.5" stroke="#000" stroke-width="5.2" />
<line x1="816.1" y1="666.5" x2="816.1" y2="683.5" stroke="#000" stroke-width="5.2" />
<line x1="889.6" y1="666.5" x2="889.6" y2="683.5" stroke="#000" stroke-width="5.2" />
<line x1="963.0" y1="666.5" x2="963.0" y2="683.5" stroke="#000" stroke-width="5.2" />
<line x1="1036.5" y1="666.5" x2="1036.5" y2="683.5" stroke="#000" stroke-width="5.2" />
<line x1="1109.9" y1="666.5" x2="1109.9" y2="683.5" stroke="#000" stroke-width="5.2" />
<line x1="1183.3" y1="666.5" x2="1183.3" y2="683.5" stroke="#000" stroke-width="5.2" />
<line x1="1256.8" y1="666.5" x2="1256.8" y2="683.5" stroke="#000" stroke-width="5.2" />
<line x1="1330.2" y1="666.5" x2="1330.2" y2="683.5" stroke="#000" stroke-width="5.2" />
<text x="0" y="0" font-size="29.80" font-weight="bold" fill="#000" transform="translate(72.20,88.90) scale(0.9565,1)">10,000</text>
<text x="0" y="0" font-size="29.80" font-weight="bold" fill="#000" transform="translate(88.11,285.20) scale(0.9530,1)">1,000</text>
<text x="0" y="0" font-size="29.80" font-weight="bold" fill="#000" transform="translate(112.01,481.30) scale(0.9526,1)">100</text>
<text x="0" y="0" font-size="29.80" font-weight="bold" fill="#000" transform="translate(127.99,677.20) scale(0.9621,1)">10</text>
<text x="0" y="0" font-size="29.80" font-weight="bold" fill="#000" transform="translate(214.75,713.60) scale(0.9441,1)">C</text>
<text x="0" y="0" font-size="29.80" font-weight="bold" fill="#000" transform="translate(281.11,713.60) scale(0.9737,1)">RA</text>
<line x1="229.5" y1="730.7" x2="299.5" y2="730.7" stroke="#000" stroke-width="4.2" />
<text x="0" y="0" font-size="29.80" font-weight="bold" fill="#000" transform="translate(361.05,713.60) scale(0.9441,1)">C</text>
<text x="0" y="0" font-size="29.80" font-weight="bold" fill="#000" transform="translate(427.91,713.60) scale(0.9737,1)">RA</text>
<line x1="376.9" y1="730.7" x2="446.9" y2="730.7" stroke="#000" stroke-width="4.2" />
<text x="0" y="0" font-size="29.80" font-weight="bold" fill="#000" transform="translate(507.65,713.60) scale(0.9441,1)">C</text>
<text x="0" y="0" font-size="29.80" font-weight="bold" fill="#000" transform="translate(574.51,713.60) scale(0.9737,1)">RA</text>
<line x1="524.3" y1="730.7" x2="594.3" y2="730.7" stroke="#000" stroke-width="4.2" />
<text x="0" y="0" font-size="29.80" font-weight="bold" fill="#000" transform="translate(654.35,713.60) scale(0.9441,1)">C</text>
<text x="0" y="0" font-size="29.80" font-weight="bold" fill="#000" transform="translate(721.61,713.60) scale(0.9737,1)">RA</text>
<line x1="671.7" y1="730.7" x2="741.7" y2="730.7" stroke="#000" stroke-width="4.2" />
<text x="0" y="0" font-size="29.80" font-weight="bold" fill="#000" transform="translate(801.65,713.60) scale(0.9441,1)">C</text>
<text x="0" y="0" font-size="29.80" font-weight="bold" fill="#000" transform="translate(868.51,713.60) scale(0.9737,1)">RA</text>
<line x1="819.1" y1="730.7" x2="889.1" y2="730.7" stroke="#000" stroke-width="4.2" />
<text x="0" y="0" font-size="29.80" font-weight="bold" fill="#000" transform="translate(952.05,713.60) scale(0.9441,1)">C</text>
<text x="0" y="0" font-size="29.80" font-weight="bold" fill="#000" transform="translate(1014.81,713.60) scale(0.9737,1)">RA</text>
<line x1="966.5" y1="730.7" x2="1036.5" y2="730.7" stroke="#000" stroke-width="4.2" />
<text x="0" y="0" font-size="29.80" font-weight="bold" fill="#000" transform="translate(1099.35,713.60) scale(0.9441,1)">C</text>
<text x="0" y="0" font-size="29.80" font-weight="bold" fill="#000" transform="translate(1162.21,713.60) scale(0.9737,1)">RA</text>
<line x1="1113.9" y1="730.7" x2="1183.9" y2="730.7" stroke="#000" stroke-width="4.2" />
<text x="0" y="0" font-size="29.80" font-weight="bold" fill="#000" transform="translate(1242.05,713.60) scale(0.9441,1)">C</text>
<text x="0" y="0" font-size="29.80" font-weight="bold" fill="#000" transform="translate(1309.31,713.60) scale(0.9737,1)">RA</text>
<line x1="1261.3" y1="730.7" x2="1331.3" y2="730.7" stroke="#000" stroke-width="4.2" />
<text x="0" y="0" font-size="32.50" font-weight="normal" fill="#000" transform="translate(206.81,766.60) scale(0.9550,1)">2-6wks2</text>
<text x="0" y="0" font-size="32.50" font-weight="normal" fill="#000" transform="translate(373.37,766.60) scale(0.9550,1)">3mo2</text>
<text x="0" y="0" font-size="32.50" font-weight="normal" fill="#000" transform="translate(526.03,766.60) scale(0.9550,1)">Pre3</text>
<text x="0" y="0" font-size="32.50" font-weight="normal" fill="#000" transform="translate(648.92,766.60) scale(0.9550,1)">2-6wks3</text>
<text x="0" y="0" font-size="32.50" font-weight="normal" fill="#000" transform="translate(815.48,766.60) scale(0.9550,1)">3mo3</text>
<text x="0" y="0" font-size="32.50" font-weight="normal" fill="#000" transform="translate(968.00,766.60) scale(0.9550,1)">Pre4</text>
<text x="0" y="0" font-size="32.50" font-weight="normal" fill="#000" transform="translate(1090.88,766.60) scale(0.9550,1)">2-6wks4</text>
<text x="0" y="0" font-size="32.50" font-weight="normal" fill="#000" transform="translate(1257.45,766.60) scale(0.9550,1)">3mo4</text>
<text x="0" y="0" font-size="37.00" font-weight="bold" fill="#000" transform="translate(665.29,28.90) scale(0.9883,1)">Anti-RBD IgG</text>
<text x="0" y="0" font-size="36.60" font-weight="bold" transform="translate(50.70,512.86) rotate(-90) scale(0.9405,1)">Anti-RBD IgG (AU)</text>
<rect x="1303.7" y="94.2" width="19.6" height="19.6" fill="none" stroke="#808080" stroke-width="3.0"/>
<circle cx="1313.3" cy="146.6" r="9.25" fill="none" stroke="#000" stroke-width="3.5"/>
<text x="0" y="0" font-size="27.50" font-weight="bold" fill="#000" transform="translate(1349.96,113.60) scale(0.9230,1)">C</text>
<text x="0" y="0" font-size="27.50" font-weight="bold" fill="#000" transform="translate(1349.62,156.00) scale(0.9636,1)">RA</text>
<text x="0" y="0" font-size="75.90" font-weight="bold" fill="#000" transform="translate(46.16,41.40) scale(0.7920,1)">a</text>
<text x="0" y="0" font-size="75.80" font-weight="bold" fill="#000" transform="translate(43.90,845.20) scale(0.7787,1)">b</text>
<text x="0" y="0" font-size="29.60" font-weight="bold" fill="#000" transform="translate(260.73,881.80) scale(0.8776,1)">Controls vs RA</text>
<line x1="286.5" y1="899.2" x2="286.5" y2="1139.4" stroke="#b8b8b8" stroke-width="1.1" />
<line x1="434.1" y1="899.2" x2="434.1" y2="1139.4" stroke="#b8b8b8" stroke-width="1.1" />
<line x1="212.6" y1="899.2" x2="212.6" y2="1139.4" stroke="#b6b6b6" stroke-width="2.1" />
<line x1="508.0" y1="899.2" x2="508.0" y2="1139.4" stroke="#b6b6b6" stroke-width="2.1" />
<line x1="154.8" y1="932.3" x2="558.3" y2="932.3" stroke="#bdbdbd" stroke-width="3.0" />
<line x1="154.8" y1="990.3" x2="558.3" y2="990.3" stroke="#bdbdbd" stroke-width="3.0" />
<line x1="154.8" y1="1048.3" x2="558.3" y2="1048.3" stroke="#bdbdbd" stroke-width="3.0" />
<line x1="154.8" y1="1106.3" x2="558.3" y2="1106.3" stroke="#bdbdbd" stroke-width="3.0" />
<line x1="360.3" y1="899.2" x2="360.3" y2="1139.4" stroke="#000" stroke-width="1.5" stroke-dasharray="1.5 2"/>
<rect x="154.8" y="899.2" width="403.5" height="240.2" fill="none" stroke="#bebebe" stroke-width="2.6"/>
<line x1="148.7" y1="932.3" x2="153.8" y2="932.3" stroke="#333" stroke-width="2" />
<line x1="326.0" y1="932.3" x2="376.3" y2="932.3" stroke="#000" stroke-width="3.0" />
<ellipse cx="350.9" cy="932.3" rx="5.2" ry="6.2" fill="#000"/>
<line x1="148.7" y1="990.3" x2="153.8" y2="990.3" stroke="#333" stroke-width="2" />
<line x1="231.1" y1="990.3" x2="346.8" y2="990.3" stroke="#000" stroke-width="3.0" />
<ellipse cx="288.8" cy="990.3" rx="5.2" ry="6.2" fill="#000"/>
<line x1="148.7" y1="1048.3" x2="153.8" y2="1048.3" stroke="#333" stroke-width="2" />
<line x1="206.5" y1="1048.3" x2="340.3" y2="1048.3" stroke="#000" stroke-width="3.0" />
<ellipse cx="273.2" cy="1048.3" rx="5.2" ry="6.2" fill="#000"/>
<line x1="148.7" y1="1106.3" x2="153.8" y2="1106.3" stroke="#333" stroke-width="2" />
<line x1="397.3" y1="1106.3" x2="497.2" y2="1106.3" stroke="#000" stroke-width="3.0" />
<ellipse cx="447.2" cy="1106.3" rx="5.2" ry="6.2" fill="#000"/>
<text x="0" y="0" font-size="29.80" font-weight="bold" fill="#000" transform="translate(92.31,937.70) scale(0.9205,1)">Age</text>
<text x="0" y="0" font-size="29.80" font-weight="bold" fill="#000" transform="translate(102.88,998.90) scale(0.9613,1)">RA</text>
<text x="0" y="0" font-size="29.80" font-weight="bold" fill="#000" transform="translate(19.32,1057.30) scale(0.9071,1)">Sex: Male</text>
<text x="0" y="0" font-size="29.80" font-weight="bold" fill="#000" transform="translate(-1.65,1117.60) scale(0.9396,1)">COVID-19+</text>
<line x1="212.6" y1="1139.4" x2="212.6" y2="1147.4" stroke="#333" stroke-width="2" />
<line x1="360.3" y1="1139.4" x2="360.3" y2="1147.4" stroke="#333" stroke-width="2" />
<line x1="508.0" y1="1139.4" x2="508.0" y2="1147.4" stroke="#333" stroke-width="2" />
<text x="0" y="0" font-size="25.50" font-weight="bold" fill="#000" transform="translate(192.78,1175.50) scale(1.0209,1)">-1</text>
<text x="0" y="0" font-size="25.50" font-weight="bold" fill="#000" transform="translate(351.13,1175.50) scale(1.1476,1)">0</text>
<text x="0" y="0" font-size="25.50" font-weight="bold" fill="#000" transform="translate(501.09,1175.50) scale(0.8771,1)">1</text>
<text x="0" y="0" font-size="29.80" font-weight="bold" fill="#000" transform="translate(300.73,1203.70) scale(0.8853,1)">Estimate</text>
<text x="0" y="0" font-size="76.80" font-weight="bold" fill="#000" transform="translate(624.82,844.20) scale(0.7951,1)">c</text>
<text x="0" y="0" font-size="29.20" font-weight="bold" fill="#000" transform="translate(748.46,822.50) scale(0.8900,1)">Factors influencing anti-RBD IgG responses in RA</text>
<line x1="835.7" y1="847.6" x2="835.7" y2="1210.1" stroke="#ababab" stroke-width="1.2" />
<line x1="1014.1" y1="847.6" x2="1014.1" y2="1210.1" stroke="#ababab" stroke-width="1.2" />
<line x1="1192.5" y1="847.6" x2="1192.5" y2="1210.1" stroke="#ababab" stroke-width="1.2" />
<line x1="924.9" y1="847.6" x2="924.9" y2="1210.1" stroke="#bdbdbd" stroke-width="2.8" />
<line x1="1281.7" y1="847.6" x2="1281.7" y2="1210.1" stroke="#bdbdbd" stroke-width="2.8" />
<line x1="788.5" y1="874.5" x2="1345.8" y2="874.5" stroke="#bdbdbd" stroke-width="3.0" />
<line x1="788.5" y1="919.3" x2="1345.8" y2="919.3" stroke="#bdbdbd" stroke-width="3.0" />
<line x1="788.5" y1="964.0" x2="1345.8" y2="964.0" stroke="#bdbdbd" stroke-width="3.0" />
<line x1="788.5" y1="1008.8" x2="1345.8" y2="1008.8" stroke="#bdbdbd" stroke-width="3.0" />
<line x1="788.5" y1="1053.5" x2="1345.8" y2="1053.5" stroke="#bdbdbd" stroke-width="3.0" />
<line x1="788.5" y1="1098.3" x2="1345.8" y2="1098.3" stroke="#bdbdbd" stroke-width="3.0" />
<line x1="788.5" y1="1143.1" x2="1345.8" y2="1143.1" stroke="#bdbdbd" stroke-width="3.0" />
<line x1="788.5" y1="1187.8" x2="1345.8" y2="1187.8" stroke="#bdbdbd" stroke-width="3.0" />
<line x1="1103.3" y1="847.6" x2="1103.3" y2="1210.1" stroke="#000" stroke-width="1.6" stroke-dasharray="2 2.2"/>
<rect x="788.5" y="847.6" width="555.8" height="362.5" fill="none" stroke="#333" stroke-width="1.4"/>
<line x1="781.0" y1="874.5" x2="788.5" y2="874.5" stroke="#333" stroke-width="2" />
<line x1="1038.0" y1="874.5" x2="1127.6" y2="874.5" stroke="#000" stroke-width="3.0" />
<circle cx="1082.7" cy="874.5" r="5.7" fill="#000"/>
<line x1="781.0" y1="919.3" x2="788.5" y2="919.3" stroke="#333" stroke-width="2" />
<line x1="942.4" y1="919.3" x2="1143.5" y2="919.3" stroke="#000" stroke-width="3.0" />
<circle cx="1042.2" cy="919.3" r="5.7" fill="#000"/>
<line x1="781.0" y1="964.0" x2="788.5" y2="964.0" stroke="#333" stroke-width="2" />
<line x1="1036.8" y1="964.0" x2="1186.3" y2="964.0" stroke="#000" stroke-width="3.0" />
<circle cx="1111.2" cy="964.0" r="5.7" fill="#000"/>
<line x1="781.0" y1="1008.8" x2="788.5" y2="1008.8" stroke="#333" stroke-width="2" />
<line x1="987.8" y1="1008.8" x2="1192.3" y2="1008.8" stroke="#000" stroke-width="3.0" />
<circle cx="1089.4" cy="1008.8" r="5.7" fill="#000"/>
<line x1="781.0" y1="1053.5" x2="788.5" y2="1053.5" stroke="#333" stroke-width="2" />
<line x1="923.0" y1="1053.5" x2="1145.1" y2="1053.5" stroke="#000" stroke-width="3.0" />
<circle cx="1034.4" cy="1053.5" r="5.7" fill="#000"/>
<line x1="781.0" y1="1098.3" x2="788.5" y2="1098.3" stroke="#333" stroke-width="2" />
<line x1="877.7" y1="1098.3" x2="1090.7" y2="1098.3" stroke="#000" stroke-width="3.0" />
<circle cx="983.5" cy="1098.3" r="5.7" fill="#000"/>
<line x1="781.0" y1="1143.1" x2="788.5" y2="1143.1" stroke="#333" stroke-width="2" />
<line x1="827.4" y1="1143.1" x2="1068.9" y2="1143.1" stroke="#000" stroke-width="3.0" />
<circle cx="947.9" cy="1143.1" r="5.7" fill="#000"/>
<line x1="781.0" y1="1187.8" x2="788.5" y2="1187.8" stroke="#333" stroke-width="2" />
<line x1="1163.0" y1="1187.8" x2="1318.6" y2="1187.8" stroke="#000" stroke-width="3.0" />
<circle cx="1240.6" cy="1187.8" r="5.7" fill="#000"/>
<text x="0" y="0" font-size="29.80" font-weight="bold" fill="#000" transform="translate(722.62,882.30) scale(0.9150,1)">Age</text>
<text x="0" y="0" font-size="29.80" font-weight="bold" fill="#000" transform="translate(671.45,925.50) scale(0.8622,1)">Steroids</text>
<text x="0" y="0" font-size="29.80" font-weight="bold" fill="#000" transform="translate(657.06,969.20) scale(0.9198,1)">DMARDs</text>
<text x="0" y="0" font-size="29.80" font-weight="bold" fill="#000" transform="translate(599.82,1017.10) scale(0.8638,1)">TNF inhibitors</text>
<text x="0" y="0" font-size="29.80" font-weight="bold" fill="#000" transform="translate(602.82,1062.20) scale(0.8403,1)">JAK inhibitors</text>
<text x="0" y="0" font-size="29.80" font-weight="bold" fill="#000" transform="translate(567.07,1107.00) scale(0.8443,1)">Costim inhibitors</text>
<text x="0" y="0" font-size="29.80" font-weight="bold" fill="#000" transform="translate(649.82,1149.30) scale(0.9020,1)">Sex: Male</text>
<text x="0" y="0" font-size="29.80" font-weight="bold" fill="#000" transform="translate(628.55,1197.60) scale(0.9396,1)">COVID-19+</text>
<line x1="924.9" y1="1210.1" x2="924.9" y2="1215.6" stroke="#333" stroke-width="2" />
<line x1="1103.3" y1="1210.1" x2="1103.3" y2="1215.6" stroke="#333" stroke-width="2" />
<line x1="1281.7" y1="1210.1" x2="1281.7" y2="1215.6" stroke="#333" stroke-width="2" />
<text x="0" y="0" font-size="24.00" font-weight="bold" fill="#000" transform="translate(908.95,1240.00) scale(1.1202,1)">-1</text>
<text x="0" y="0" font-size="24.00" font-weight="bold" fill="#000" transform="translate(1095.86,1240.00) scale(1.1842,1)">0</text>
<text x="0" y="0" font-size="24.00" font-weight="bold" fill="#000" transform="translate(1273.52,1240.00) scale(0.9140,1)">1</text>
<text x="0" y="0" font-size="28.80" font-weight="bold" fill="#000" transform="translate(1050.27,1271.90) scale(0.8973,1)">Estimate</text>
<text x="0" y="0" font-size="75.80" font-weight="bold" fill="#000" transform="translate(45.48,1297.40) scale(0.7800,1)">d</text>
<text x="0" y="0" font-size="34.20" font-weight="bold" fill="#000" transform="translate(471.54,1286.30) scale(1.0073,1)">Anti-RBD IgG at 2-6wks3</text>
<line x1="184.8" y1="1333.1" x2="184.8" y2="1895.8" stroke="#000" stroke-width="5.8" />
<line x1="168.3" y1="1893.0" x2="1165.6" y2="1893.0" stroke="#000" stroke-width="5.5" />
<line x1="168.3" y1="1707.3" x2="184.8" y2="1707.3" stroke="#000" stroke-width="5.3" />
<line x1="168.3" y1="1521.5" x2="184.8" y2="1521.5" stroke="#000" stroke-width="5.3" />
<line x1="168.3" y1="1335.7" x2="184.8" y2="1335.7" stroke="#000" stroke-width="5.3" />
<line x1="175.5" y1="1800.2" x2="184.8" y2="1800.2" stroke="#000" stroke-width="5.3" />
<line x1="175.5" y1="1614.4" x2="184.8" y2="1614.4" stroke="#000" stroke-width="5.3" />
<line x1="175.5" y1="1428.6" x2="184.8" y2="1428.6" stroke="#000" stroke-width="5.3" />
<text x="0" y="0" font-size="28.00" font-weight="bold" fill="#000" transform="translate(97.85,1345.72) scale(0.9600,1)">1,500</text>
<text x="0" y="0" font-size="28.00" font-weight="bold" fill="#000" transform="translate(97.85,1531.50) scale(0.9600,1)">1,000</text>
<text x="0" y="0" font-size="28.00" font-weight="bold" fill="#000" transform="translate(120.27,1717.27) scale(0.9600,1)">500</text>
<text x="0" y="0" font-size="28.00" font-weight="bold" fill="#000" transform="translate(150.16,1903.05) scale(0.9600,1)">0</text>
<text x="0" y="0" font-size="36.20" font-weight="bold" transform="translate(78.80,1762.66) rotate(-90) scale(0.9528,1)">Anti-RBD IgG (AU)</text>
<line x1="306.9" y1="1893.0" x2="306.9" y2="1908.6" stroke="#000" stroke-width="5.2" />
<line x1="489.8" y1="1893.0" x2="489.8" y2="1908.6" stroke="#000" stroke-width="5.2" />
<line x1="672.7" y1="1893.0" x2="672.7" y2="1908.6" stroke="#000" stroke-width="5.2" />
<line x1="855.9" y1="1893.0" x2="855.9" y2="1908.6" stroke="#000" stroke-width="5.2" />
<line x1="1039.2" y1="1893.0" x2="1039.2" y2="1908.6" stroke="#000" stroke-width="5.2" />
<text x="0" y="0" font-size="32.20" font-weight="bold" text-anchor="end" transform="translate(318.40,1934.50) rotate(-45) scale(0.9300,1)">Costim inhibitors</text>
<text x="0" y="0" font-size="32.20" font-weight="bold" text-anchor="end" transform="translate(501.30,1934.50) rotate(-45) scale(0.9300,1)">JAK inhibitors</text>
<text x="0" y="0" font-size="32.20" font-weight="bold" text-anchor="end" transform="translate(684.20,1934.50) rotate(-45) scale(0.9300,1)">TNF inhibitors</text>
<text x="0" y="0" font-size="32.20" font-weight="bold" text-anchor="end" transform="translate(867.40,1934.50) rotate(-45) scale(0.9300,1)">Other drugs</text>
<text x="0" y="0" font-size="32.20" font-weight="bold" text-anchor="end" transform="translate(1050.70,1934.50) rotate(-45) scale(0.9300,1)">C</text>
<circle cx="306.6" cy="1700.5" r="10.45" fill="none" stroke="#000" stroke-width="3.3"/>
<circle cx="306.5" cy="1812.0" r="10.45" fill="none" stroke="#000" stroke-width="3.3"/>
<circle cx="328.0" cy="1866.3" r="10.45" fill="none" stroke="#000" stroke-width="3.3"/>
<circle cx="285.2" cy="1885.1" r="10.45" fill="none" stroke="#000" stroke-width="3.3"/>
<line x1="245.2" y1="1839.7" x2="368.0" y2="1839.7" stroke="#000" stroke-width="5.4" />
<path d="M487.2,1714.7 L492.6,1714.7 L503.4,1738.7 L476.4,1738.7 Z M489.9,1721.8 L497.4,1735.2 L482.4,1735.2 Z" fill="#000" fill-rule="evenodd"/>
<path d="M487.2,1737.9 L492.6,1737.9 L503.4,1761.9 L476.4,1761.9 Z M489.9,1745.0 L497.4,1758.4 L482.4,1758.4 Z" fill="#000" fill-rule="evenodd"/>
<path d="M436.8,1773.0 L442.2,1773.0 L453.0,1797.0 L426.0,1797.0 Z M439.5,1780.1 L447.0,1793.5 L432.0,1793.5 Z" fill="#000" fill-rule="evenodd"/>
<path d="M487.2,1771.0 L492.6,1771.0 L503.4,1795.0 L476.4,1795.0 Z M489.9,1778.1 L497.4,1791.5 L482.4,1791.5 Z" fill="#000" fill-rule="evenodd"/>
<path d="M537.8,1788.4 L543.2,1788.4 L554.0,1812.4 L527.0,1812.4 Z M540.5,1795.5 L548.0,1808.9 L533.0,1808.9 Z" fill="#000" fill-rule="evenodd"/>
<path d="M487.2,1812.2 L492.6,1812.2 L503.4,1836.2 L476.4,1836.2 Z M489.9,1819.3 L497.4,1832.7 L482.4,1832.7 Z" fill="#000" fill-rule="evenodd"/>
<path d="M487.2,1876.0 L492.6,1876.0 L503.4,1900.0 L476.4,1900.0 Z M489.9,1883.1 L497.4,1896.5 L482.4,1896.5 Z" fill="#000" fill-rule="evenodd"/>
<line x1="428.9" y1="1784.3" x2="551.3" y2="1784.3" stroke="#000" stroke-width="4.8" />
<path d="M672.8,1586.4 L683.2,1596.8 L672.8,1607.2 L662.4,1596.8 Z" fill="none" stroke="#000" stroke-width="3.8" stroke-linejoin="miter"/>
<path d="M672.8,1663.8 L683.2,1674.2 L672.8,1684.6 L662.4,1674.2 Z" fill="none" stroke="#000" stroke-width="3.8" stroke-linejoin="miter"/>
<path d="M664.1,1685.7 L674.5,1696.1 L664.1,1706.5 L653.7,1696.1 Z" fill="none" stroke="#000" stroke-width="3.8" stroke-linejoin="miter"/>
<path d="M681.6,1705.4 L692.0,1715.8 L681.6,1726.2 L671.2,1715.8 Z" fill="none" stroke="#000" stroke-width="3.8" stroke-linejoin="miter"/>
<path d="M622.7,1772.5 L633.1,1782.9 L622.7,1793.3 L612.3,1782.9 Z" fill="none" stroke="#000" stroke-width="3.8" stroke-linejoin="miter"/>
<path d="M656.3,1773.3 L666.7,1783.7 L656.3,1794.1 L645.9,1783.7 Z" fill="none" stroke="#000" stroke-width="3.8" stroke-linejoin="miter"/>
<path d="M673.0,1772.5 L683.4,1782.9 L673.0,1793.3 L662.6,1782.9 Z" fill="none" stroke="#000" stroke-width="3.8" stroke-linejoin="miter"/>
<path d="M689.6,1778.2 L700.0,1788.6 L689.6,1799.0 L679.2,1788.6 Z" fill="none" stroke="#000" stroke-width="3.8" stroke-linejoin="miter"/>
<path d="M706.6,1782.2 L717.0,1792.6 L706.6,1803.0 L696.2,1792.6 Z" fill="none" stroke="#000" stroke-width="3.8" stroke-linejoin="miter"/>
<path d="M723.4,1774.1 L733.8,1784.5 L723.4,1794.9 L713.0,1784.5 Z" fill="none" stroke="#000" stroke-width="3.8" stroke-linejoin="miter"/>
<path d="M639.3,1791.1 L649.7,1801.5 L639.3,1811.9 L628.9,1801.5 Z" fill="none" stroke="#000" stroke-width="3.8" stroke-linejoin="miter"/>
<path d="M673.0,1794.5 L683.4,1804.9 L673.0,1815.3 L662.6,1804.9 Z" fill="none" stroke="#000" stroke-width="3.8" stroke-linejoin="miter"/>
<path d="M656.3,1813.3 L666.7,1823.7 L656.3,1834.1 L645.9,1823.7 Z" fill="none" stroke="#000" stroke-width="3.8" stroke-linejoin="miter"/>
<path d="M689.6,1811.8 L700.0,1822.2 L689.6,1832.6 L679.2,1822.2 Z" fill="none" stroke="#000" stroke-width="3.8" stroke-linejoin="miter"/>
<line x1="611.8" y1="1784.3" x2="736.2" y2="1784.3" stroke="#000" stroke-width="5" />
<line x1="800.0" y1="1784.0" x2="912.0" y2="1784.0" stroke="#000" stroke-width="5" />
<path d="M866.8,1482.3 L861.5,1491.4 L851.0,1491.4 L845.8,1482.3 L851.0,1473.2 L861.5,1473.2 Z M866.8,1482.3 L845.8,1482.3 M861.5,1491.4 L851.0,1473.2 M851.0,1491.4 L861.5,1473.2" fill="none" stroke="#000" stroke-width="3.8" stroke-linejoin="miter"/>
<path d="M866.8,1503.5 L861.5,1512.6 L851.0,1512.6 L845.8,1503.5 L851.0,1494.4 L861.5,1494.4 Z M866.8,1503.5 L845.8,1503.5 M861.5,1512.6 L851.0,1494.4 M851.0,1512.6 L861.5,1494.4" fill="none" stroke="#000" stroke-width="3.8" stroke-linejoin="miter"/>
<path d="M866.7,1677.4 L861.5,1686.5 L851.0,1686.5 L845.7,1677.4 L851.0,1668.3 L861.5,1668.3 Z M866.7,1677.4 L845.7,1677.4 M861.5,1686.5 L851.0,1668.3 M851.0,1686.5 L861.5,1668.3" fill="none" stroke="#000" stroke-width="3.8" stroke-linejoin="miter"/>
<path d="M866.7,1716.2 L861.5,1725.3 L851.0,1725.3 L845.7,1716.2 L851.0,1707.1 L861.5,1707.1 Z M866.7,1716.2 L845.7,1716.2 M861.5,1725.3 L851.0,1707.1 M851.0,1725.3 L861.5,1707.1" fill="none" stroke="#000" stroke-width="3.8" stroke-linejoin="miter"/>
<path d="M866.7,1738.4 L861.5,1747.5 L851.0,1747.5 L845.7,1738.4 L851.0,1729.3 L861.5,1729.3 Z M866.7,1738.4 L845.7,1738.4 M861.5,1747.5 L851.0,1729.3 M851.0,1747.5 L861.5,1729.3" fill="none" stroke="#000" stroke-width="3.8" stroke-linejoin="miter"/>
<path d="M814.5,1783.5 L809.2,1792.6 L798.8,1792.6 L793.5,1783.5 L798.8,1774.4 L809.2,1774.4 Z M814.5,1783.5 L793.5,1783.5 M809.2,1792.6 L798.8,1774.4 M798.8,1792.6 L809.2,1774.4" fill="none" stroke="#000" stroke-width="3.8" stroke-linejoin="miter"/>
<path d="M836.7,1788.7 L831.5,1797.8 L821.0,1797.8 L815.7,1788.7 L821.0,1779.6 L831.5,1779.6 Z M836.7,1788.7 L815.7,1788.7 M831.5,1797.8 L821.0,1779.6 M821.0,1797.8 L831.5,1779.6" fill="none" stroke="#000" stroke-width="3.8" stroke-linejoin="miter"/>
<path d="M856.7,1785.2 L851.5,1794.3 L841.0,1794.3 L835.7,1785.2 L841.0,1776.1 L851.5,1776.1 Z M856.7,1785.2 L835.7,1785.2 M851.5,1794.3 L841.0,1776.1 M841.0,1794.3 L851.5,1776.1" fill="none" stroke="#000" stroke-width="3.8" stroke-linejoin="miter"/>
<path d="M877.0,1792.7 L871.8,1801.8 L861.2,1801.8 L856.0,1792.7 L861.2,1783.6 L871.8,1783.6 Z M877.0,1792.7 L856.0,1792.7 M871.8,1801.8 L861.2,1783.6 M861.2,1801.8 L871.8,1783.6" fill="none" stroke="#000" stroke-width="3.8" stroke-linejoin="miter"/>
<path d="M897.2,1786.4 L892.0,1795.5 L881.5,1795.5 L876.2,1786.4 L881.5,1777.3 L892.0,1777.3 Z M897.2,1786.4 L876.2,1786.4 M892.0,1795.5 L881.5,1777.3 M881.5,1795.5 L892.0,1777.3" fill="none" stroke="#000" stroke-width="3.8" stroke-linejoin="miter"/>
<path d="M917.7,1783.0 L912.5,1792.1 L902.0,1792.1 L896.7,1783.0 L902.0,1773.9 L912.5,1773.9 Z M917.7,1783.0 L896.7,1783.0 M912.5,1792.1 L902.0,1773.9 M902.0,1792.1 L912.5,1773.9" fill="none" stroke="#000" stroke-width="3.8" stroke-linejoin="miter"/>
<path d="M866.7,1839.4 L861.5,1848.5 L851.0,1848.5 L845.7,1839.4 L851.0,1830.3 L861.5,1830.3 Z M866.7,1839.4 L845.7,1839.4 M861.5,1848.5 L851.0,1830.3 M851.0,1848.5 L861.5,1830.3" fill="none" stroke="#000" stroke-width="3.8" stroke-linejoin="miter"/>
<path d="M866.7,1869.1 L861.5,1878.2 L851.0,1878.2 L845.7,1869.1 L851.0,1860.0 L861.5,1860.0 Z M866.7,1869.1 L845.7,1869.1 M861.5,1878.2 L851.0,1860.0 M851.0,1878.2 L861.5,1860.0" fill="none" stroke="#000" stroke-width="3.8" stroke-linejoin="miter"/>
<rect x="1029.0" y="1519.0" width="20.5" height="20.5" fill="none" stroke="#808080" stroke-width="3.8"/>
<rect x="1029.0" y="1554.2" width="20.5" height="20.5" fill="none" stroke="#808080" stroke-width="3.8"/>
<rect x="1019.0" y="1651.3" width="20.5" height="20.5" fill="none" stroke="#808080" stroke-width="3.8"/>
<rect x="1039.5" y="1666.2" width="20.5" height="20.5" fill="none" stroke="#808080" stroke-width="3.8"/>
<rect x="1039.5" y="1696.0" width="20.5" height="20.5" fill="none" stroke="#808080" stroke-width="3.8"/>
<rect x="999.2" y="1711.2" width="20.5" height="20.5" fill="none" stroke="#808080" stroke-width="3.8"/>
<rect x="1019.0" y="1703.8" width="20.5" height="20.5" fill="none" stroke="#808080" stroke-width="3.8"/>
<rect x="1059.2" y="1711.2" width="20.5" height="20.5" fill="none" stroke="#808080" stroke-width="3.8"/>
<rect x="978.2" y="1734.3" width="20.5" height="20.5" fill="none" stroke="#808080" stroke-width="3.8"/>
<rect x="999.2" y="1731.8" width="20.5" height="20.5" fill="none" stroke="#808080" stroke-width="3.8"/>
<rect x="1019.0" y="1727.3" width="20.5" height="20.5" fill="none" stroke="#808080" stroke-width="3.8"/>
<rect x="1039.5" y="1722.2" width="20.5" height="20.5" fill="none" stroke="#808080" stroke-width="3.8"/>
<rect x="1039.5" y="1748.3" width="20.5" height="20.5" fill="none" stroke="#808080" stroke-width="3.8"/>
<rect x="1019.0" y="1752.8" width="20.5" height="20.5" fill="none" stroke="#808080" stroke-width="3.8"/>
<rect x="999.2" y="1755.0" width="20.5" height="20.5" fill="none" stroke="#808080" stroke-width="3.8"/>
<rect x="1079.8" y="1750.5" width="20.5" height="20.5" fill="none" stroke="#808080" stroke-width="3.8"/>
<rect x="978.2" y="1764.5" width="20.5" height="20.5" fill="none" stroke="#808080" stroke-width="3.8"/>
<rect x="1059.2" y="1765.8" width="20.5" height="20.5" fill="none" stroke="#808080" stroke-width="3.8"/>
<rect x="1039.5" y="1772.5" width="20.5" height="20.5" fill="none" stroke="#808080" stroke-width="3.8"/>
<rect x="978.2" y="1786.8" width="20.5" height="20.5" fill="none" stroke="#808080" stroke-width="3.8"/>
<rect x="1019.0" y="1790.0" width="20.5" height="20.5" fill="none" stroke="#808080" stroke-width="3.8"/>
<rect x="1039.5" y="1798.7" width="20.5" height="20.5" fill="none" stroke="#808080" stroke-width="3.8"/>
<rect x="1059.2" y="1788.7" width="20.5" height="20.5" fill="none" stroke="#808080" stroke-width="3.8"/>
<rect x="1079.8" y="1787.8" width="20.5" height="20.5" fill="none" stroke="#808080" stroke-width="3.8"/>
<rect x="1019.0" y="1816.2" width="20.5" height="20.5" fill="none" stroke="#808080" stroke-width="3.8"/>
<line x1="977.6" y1="1758.6" x2="1100.9" y2="1758.6" stroke="#000" stroke-width="5.4" />
</svg>
</body></html>
